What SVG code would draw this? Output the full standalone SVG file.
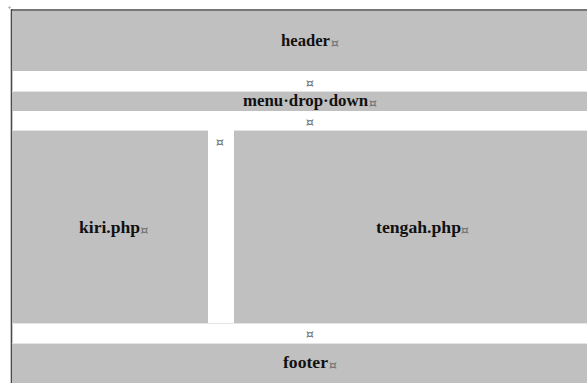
<svg xmlns="http://www.w3.org/2000/svg" width="587" height="383" viewBox="0 0 587 383">
  <style>
    .cell { fill: #c0c0c0; }
    .edge { stroke: #e4e4e4; stroke-width: 1; }
    .lbl { font-family: "Liberation Serif", "Times New Roman", serif; font-weight: bold; font-size: 16px; fill: #111; }
    .mark { font-family: "DejaVu Sans", sans-serif; font-size: 13px; fill: #707070; text-anchor: middle; }
  </style>
  <rect width="587" height="383" fill="#ffffff"/>

  <!-- table frame -->
  <g id="frame">
    <path d="M8 7.5 H11 M9.5 6 V9" stroke="#bbbbbb" stroke-width="1"/>
    <line x1="11" y1="10" x2="587" y2="10" stroke="#4a4a4a" stroke-width="1.6"/>
    <line x1="11.5" y1="9" x2="11.5" y2="383" stroke="#4a4a4a" stroke-width="1.6"/>
  </g>

  <g id="header">
    <rect class="cell" x="12" y="11" width="575" height="60"/>
    <text class="lbl" x="281" y="46" textLength="49" lengthAdjust="spacingAndGlyphs">header</text>
    <text class="mark" x="335" y="47">¤</text>
  </g>

  <g id="gap-1">
    <text class="mark" x="310" y="86.5">¤</text>
  </g>

  <g id="menu">
    <rect class="cell" x="12" y="91" width="575" height="20"/>
    <line class="edge" x1="12" y1="91.5" x2="587" y2="91.5"/>
    <text class="lbl" x="243" y="106" textLength="125" lengthAdjust="spacingAndGlyphs">menu·drop·down</text>
    <text class="mark" x="373" y="107">¤</text>
  </g>

  <g id="gap-2">
    <text class="mark" x="310" y="126">¤</text>
  </g>

  <g id="kiri">
    <rect class="cell" x="12" y="130" width="196" height="193"/>
    <line class="edge" x1="12" y1="130.5" x2="208" y2="130.5"/>
    <text class="lbl" x="79" y="233" textLength="61" lengthAdjust="spacingAndGlyphs">kiri.php</text>
    <text class="mark" x="144.5" y="234">¤</text>
  </g>

  <g id="gap-side">
    <text class="mark" x="220" y="145.5">¤</text>
  </g>

  <g id="tengah">
    <rect class="cell" x="234" y="130" width="353" height="193"/>
    <line class="edge" x1="234" y1="130.5" x2="587" y2="130.5"/>
    <text class="lbl" x="376" y="233" textLength="85" lengthAdjust="spacingAndGlyphs">tengah.php</text>
    <text class="mark" x="465" y="234">¤</text>
  </g>

  <g id="gap-3">
    <line class="edge" x1="12" y1="323.5" x2="587" y2="323.5"/>
    <text class="mark" x="310" y="338">¤</text>
  </g>

  <g id="footer">
    <rect class="cell" x="12" y="343" width="575" height="40"/>
    <line class="edge" x1="12" y1="343.5" x2="587" y2="343.5"/>
    <text class="lbl" x="283" y="368" textLength="45" lengthAdjust="spacingAndGlyphs">footer</text>
    <text class="mark" x="333" y="369">¤</text>
  </g>
</svg>
